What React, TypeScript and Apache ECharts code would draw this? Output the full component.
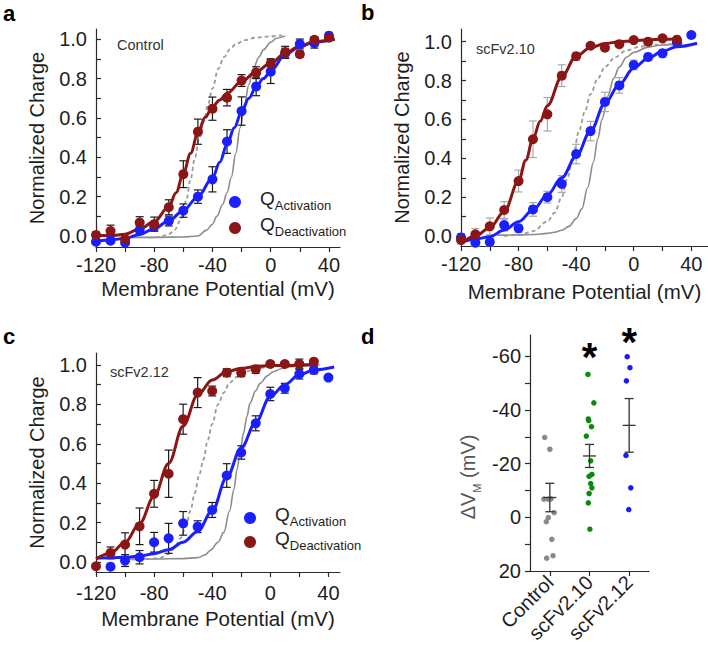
import React, { useEffect, useRef } from 'react';
import * as echarts from 'echarts';

const FONT = '"Liberation Sans", Arial, Helvetica, sans-serif';

// Membrane potentials (mV)
const VOLT = [-120, -110, -100, -90, -80, -70, -60, -50, -40, -30, -20, -10, 0, 10, 20, 30, 40];

// Panel a (Control)
const aActQ = [-0.029, -0.024, -0.034, 0.03, 0.05, 0.076, 0.129, 0.2, 0.288, 0.48, 0.635, 0.76, 0.835, 0.929, 0.976, 0.98, 1.018];
const aActErr = [0.01, 0.01, 0.01, 0.02, 0.02, 0.025, 0.034, 0.034, 0.064, 0.06, 0.072, 0.047, 0.06, 0.025, 0.025, 0.025, 0.01];
const aDeaQ = [0.005, 0.025, -0.017, 0.068, 0.06, 0.146, 0.314, 0.53, 0.647, 0.703, 0.79, 0.83, 0.876, 0.934, 0.924, 0.997, 1.008];
const aDeaErr = [0.015, 0.03, 0.015, 0.03, 0.036, 0.038, 0.068, 0.064, 0.059, 0.042, 0.03, 0.03, 0.025, 0.03, 0.015, 0.015, 0.01];
const aActFit = [[-120, -0.026], [-110, -0.02], [-100, -0.012], [-90, 0.008], [-80, 0.037], [-70, 0.077], [-60, 0.13], [-50, 0.2], [-40, 0.295], [-35, 0.375], [-30, 0.465], [-25, 0.55], [-20, 0.632], [-15, 0.7], [-10, 0.759], [-5, 0.8], [0, 0.838], [10, 0.922], [20, 0.962], [30, 0.986], [44, 1.0]];
const aDeaFit = [[-120, 0.002], [-110, 0.002], [-100, 0.009], [-90, 0.036], [-80, 0.073], [-70, 0.149], [-65, 0.22], [-60, 0.319], [-55, 0.42], [-50, 0.525], [-45, 0.603], [-40, 0.657], [-35, 0.691], [-30, 0.725], [-20, 0.785], [-10, 0.835], [0, 0.878], [10, 0.929], [20, 0.966], [30, 0.988], [44, 1.0]];
const aRefSolid = [[-100, -0.007], [-80, -0.007], [-60, -0.005], [-50, 0.0], [-44, 0.03], [-40, 0.06], [-37, 0.1], [-33, 0.16], [-30, 0.22], [-27, 0.3], [-24, 0.42], [-21, 0.55], [-18, 0.67], [-15, 0.77], [-12, 0.85], [-8, 0.91], [-5, 0.946], [0, 0.985], [4, 1.005], [10, 1.017]];
const aRefDash = [[-84, -0.008], [-76, -0.005], [-70, 0.01], [-66, 0.03], [-62, 0.08], [-58, 0.18], [-55, 0.29], [-52, 0.4], [-49, 0.5], [-46, 0.58], [-43, 0.67], [-40, 0.75], [-36, 0.85], [-32, 0.91], [-28, 0.95], [-24, 0.975], [-18, 0.995], [-10, 1.008], [0, 1.015], [8, 1.02]];

// Panel b (scFv2.10)
const bActQ = [-0.007, -0.034, -0.03, 0.057, 0.04, 0.137, 0.2, 0.268, 0.422, 0.54, 0.69, 0.775, 0.88, 0.921, 0.94, 0.997, 1.034];
const bActErr = [0.02, 0.02, 0.02, 0.03, 0.02, 0.035, 0.03, 0.043, 0.05, 0.05, 0.05, 0.04, 0.025, 0.02, 0.02, 0.01, 0.01];
const bDeaQ = [-0.02, 0.009, 0.05, 0.134, 0.283, 0.498, 0.626, 0.825, 0.925, 0.979, 0.969, 0.987, 1.008, 1.0, 1.017, 1.01];
const bDeaErr = [0.02, 0.03, 0.043, 0.043, 0.056, 0.094, 0.086, 0.056, 0.02, 0.015, 0.015, 0.01, 0.01, 0.01, 0.01, 0.01];
const bActFit = [[-120, -0.035], [-110, -0.015], [-100, -0.003], [-90, 0.031], [-80, 0.074], [-70, 0.134], [-60, 0.211], [-50, 0.3], [-40, 0.41], [-30, 0.54], [-20, 0.683], [-10, 0.78], [0, 0.865], [10, 0.915], [20, 0.95], [30, 0.974], [44, 0.992]];
const bDeaFit = [[-120, -0.04], [-110, 0.0], [-100, 0.043], [-90, 0.125], [-80, 0.283], [-75, 0.39], [-70, 0.5], [-65, 0.59], [-60, 0.67], [-50, 0.82], [-40, 0.925], [-30, 0.97], [-20, 0.99], [-10, 1.0], [0, 1.005], [10, 1.01], [20, 1.012], [30, 1.013]];
const bRefSolid = [[-95, 0.005], [-80, 0.006], [-70, 0.008], [-60, 0.014], [-55, 0.02], [-50, 0.03], [-45, 0.05], [-40, 0.09], [-36, 0.14], [-32, 0.25], [-28, 0.38], [-25, 0.5], [-22, 0.6], [-18, 0.72], [-14, 0.81], [-10, 0.87], [-5, 0.92], [0, 0.945], [10, 0.972], [20, 0.983], [34, 0.99]];
const bRefDash = [[-90, 0.0], [-80, 0.005], [-70, 0.025], [-60, 0.075], [-55, 0.12], [-50, 0.2], [-46, 0.3], [-42, 0.42], [-38, 0.54], [-34, 0.64], [-30, 0.73], [-25, 0.81], [-20, 0.87], [-13, 0.92], [-5, 0.955], [5, 0.975], [15, 0.985], [34, 0.99]];

// Panel c (scFv2.12)
const cActQ = [-0.024, 0.007, 0.024, 0.1, 0.12, 0.196, 0.179, 0.264, 0.439, 0.556, 0.704, 0.853, 0.882, 0.954, 0.975, 0.936];
const cActErr = [0.01, 0.03, 0.034, 0.05, 0.076, 0.06, 0.03, 0.038, 0.06, 0.034, 0.038, 0.034, 0.025, 0.025, 0.02, 0.01];
const cDeaQ = [-0.022, 0.046, 0.088, 0.181, 0.346, 0.448, 0.725, 0.86, 0.868, 0.961, 0.961, 0.978, 1.005, 1.005, 1.005, 1.017];
const cDeaErr = [0.01, 0.03, 0.06, 0.093, 0.068, 0.12, 0.076, 0.076, 0.025, 0.02, 0.02, 0.02, 0.012, 0.012, 0.025, 0.012];
const cActFit = [[-120, 0.019], [-110, 0.021], [-100, 0.024], [-90, 0.03], [-80, 0.042], [-70, 0.062], [-60, 0.1], [-50, 0.155], [-40, 0.26], [-30, 0.43], [-20, 0.58], [-10, 0.71], [0, 0.84], [10, 0.9], [20, 0.95], [30, 0.975], [44, 0.99]];
const cDeaFit = [[-120, 0.015], [-110, 0.044], [-100, 0.1], [-90, 0.194], [-80, 0.333], [-70, 0.5], [-60, 0.69], [-50, 0.848], [-40, 0.924], [-30, 0.966], [-20, 0.983], [-10, 0.992], [0, 0.997], [30, 1.003]];
const cRefSolid = [[-97, 0.015], [-80, 0.015], [-60, 0.017], [-50, 0.022], [-45, 0.035], [-41, 0.06], [-36, 0.1], [-32, 0.15], [-28, 0.26], [-25, 0.37], [-23, 0.467], [-20.5, 0.57], [-18.5, 0.653], [-16, 0.74], [-14, 0.806], [-10, 0.87], [-7, 0.907], [-2, 0.945], [2, 0.966], [8, 0.982], [14, 0.992], [34, 1.0]];
const cRefDash = [[-95, 0.012], [-85, 0.015], [-76, 0.02], [-70, 0.04], [-66, 0.07], [-62, 0.12], [-58, 0.18], [-55, 0.26], [-52, 0.35], [-49, 0.44], [-46, 0.52], [-43, 0.62], [-40, 0.7], [-36, 0.8], [-32, 0.86], [-28, 0.91], [-23, 0.94], [-18, 0.965], [-11, 0.978], [-2, 0.99], [9, 1.0]];

// Panel d (ΔV_M)
const GROUPS = ['Control', 'scFv2.10', 'scFv2.12'];
const dCtrlJitter = [-0.13, 0, -0.15, -0.04, 0.03, 0.11, -0.04, -0.09, 0.05, 0.08, -0.08];
const dCtrlVal = [-29.8, -25.4, -6.8, -6.8, -6.9, -1.8, 0.1, 1.6, 8.2, 14.3, 15.2];
const d210Jitter = [-0.04, 0.11, -0.03, -0.02, 0.05, -0.08, 0.03, 0.06, -0.01, 0.03, 0.06, -0.01, -0.03, 0.01];
const d210Val = [-53.3, -42.7, -36.7, -36.1, -33.8, -30.3, -21.1, -16.0, -15.3, -12.6, -11.0, -8.9, -5.4, 4.4];
const d212Jitter = [-0.05, 0.02, -0.07, -0.08, 0.04, -0.01];
const d212Val = [-59.9, -55.8, -50.9, -23.1, -11.0, -2.9];
const dMean = [-7.4, -22.9, -34.3];
const dSem = [5.3, 4.3, 10.0];
const dStarGroup = [2, 3];
const dStarY = [-59.8, -65.3];

const X_TICKS = [-120, -100, -80, -60, -40, -20, 0, 20, 40];
const X_LABELS = [-120, -80, -40, 0, 40];
const Y_TICKS = [0, 0.1, 0.2, 0.3, 0.4, 0.5, 0.6, 0.7, 0.8, 0.9, 1.0];
const Y_LABELS = [0, 0.2, 0.4, 0.6, 0.8, 1.0];
const D_TICKS = [-60, -50, -40, -30, -20, -10, 0, 10, 20];
const D_LABELS = [-60, -40, -20, 0, 20];

const BLUE = '#1a1fff';
const RED = '#8b1616';
const GREY = '#8c8c8c';
const AXIS = '#2a2a2a';
const TXT = '#1e1e1e';

const zip3 = (xs: number[], ys: number[], es: number[]) => ys.map((y, i) => [xs[i], y, es[i]]);

function errRender(color: string, hw: number) {
  return (params: any, api: any) => {
    const x = api.value(0), y = api.value(1), e = api.value(2);
    const t = api.coord([x, y + e]);
    const b = api.coord([x, y - e]);
    const st = { stroke: color, lineWidth: 1.2 };
    return {
      type: 'group',
      children: [
        { type: 'line', shape: { x1: t[0], y1: t[1], x2: b[0], y2: b[1] }, style: st },
        { type: 'line', shape: { x1: t[0] - hw, y1: t[1], x2: t[0] + hw, y2: t[1] }, style: st },
        { type: 'line', shape: { x1: b[0] - hw, y1: b[1], x2: b[0] + hw, y2: b[1] }, style: st },
      ],
    };
  };
}

function meanRender(params: any, api: any) {
  const x = api.value(0), m = api.value(1), s = api.value(2);
  const c = api.coord([x, m]);
  const t = api.coord([x, m - s]);
  const b = api.coord([x, m + s]);
  const st = { stroke: '#333', lineWidth: 1.3 };
  return {
    type: 'group',
    children: [
      { type: 'line', shape: { x1: t[0], y1: t[1], x2: b[0], y2: b[1] }, style: st },
      { type: 'line', shape: { x1: t[0] - 4.5, y1: t[1], x2: t[0] + 4.5, y2: t[1] }, style: st },
      { type: 'line', shape: { x1: b[0] - 4.5, y1: b[1], x2: b[0] + 4.5, y2: b[1] }, style: st },
      { type: 'line', shape: { x1: c[0] - 6.5, y1: c[1], x2: c[0] + 6.5, y2: c[1] }, style: st },
    ],
  };
}

function xAxisQ(gridIndex: number, max: number, margin: number, nameGap: number) {
  return {
    type: 'value', gridIndex, min: -120, max,
    name: 'Membrane Potential (mV)', nameLocation: 'middle', nameGap,
    nameTextStyle: { fontFamily: FONT, fontSize: 20.5, color: TXT },
    axisLine: { show: true, onZero: false, lineStyle: { color: AXIS, width: 1.2 } },
    axisTick: { show: true, inside: false, length: 5, customValues: X_TICKS, lineStyle: { color: AXIS, width: 1.2 } },
    axisLabel: { customValues: X_LABELS, margin, fontFamily: FONT, fontSize: 20, color: TXT, formatter: (v: number) => String(v) },
    splitLine: { show: false },
  };
}

function yAxisQ(gridIndex: number, min: number, max: number) {
  return {
    type: 'value', gridIndex, min, max,
    name: 'Normalized Charge', nameLocation: 'middle', nameGap: 49,
    nameTextStyle: { fontFamily: FONT, fontSize: 20, color: TXT },
    axisLine: { show: true, onZero: false, lineStyle: { color: AXIS, width: 1.2 } },
    axisTick: { show: true, inside: true, length: 5, customValues: Y_TICKS, lineStyle: { color: AXIS, width: 1.2 } },
    axisLabel: { customValues: Y_LABELS, margin: 9, fontFamily: FONT, fontSize: 20, color: TXT, formatter: (v: number) => v.toFixed(1) },
    splitLine: { show: false },
  };
}

function panelSeries(idx: number, act: number[][], dea: number[][], actFit: number[][], deaFit: number[][], refS: number[][], refD: number[][], errColor: string) {
  const base = { xAxisIndex: idx, yAxisIndex: idx };
  return [
    { ...base, type: 'line', name: 'ref-solid-' + idx, data: refS, showSymbol: false, smooth: 0.35, smoothMonotone: 'x', lineStyle: { color: GREY, width: 1.6 }, z: 1 },
    { ...base, type: 'line', name: 'ref-dash-' + idx, data: refD, showSymbol: false, smooth: 0.35, smoothMonotone: 'x', lineStyle: { color: '#9a9a9a', width: 1.8, type: [4, 3] }, z: 1 },
    { ...base, type: 'custom', name: 'err-a-' + idx, data: act, renderItem: errRender(errColor, 4), encode: { x: 0, y: 1 }, z: 2 },
    { ...base, type: 'custom', name: 'err-d-' + idx, data: dea, renderItem: errRender(errColor, 4), encode: { x: 0, y: 1 }, z: 2 },
    { ...base, type: 'line', name: 'fit-a-' + idx, data: actFit, showSymbol: false, smooth: 0.35, smoothMonotone: 'x', lineStyle: { color: BLUE, width: 3 }, z: 3 },
    { ...base, type: 'line', name: 'fit-d-' + idx, data: deaFit, showSymbol: false, smooth: 0.35, smoothMonotone: 'x', lineStyle: { color: RED, width: 3 }, z: 3 },
    { ...base, type: 'scatter', name: 'Activation', data: act.map((p) => [p[0], p[1]]), symbol: 'circle', symbolSize: 10, itemStyle: { color: BLUE, opacity: 1 }, z: 4 },
    { ...base, type: 'scatter', name: 'Deactivation', data: dea.map((p) => [p[0], p[1]]), symbol: 'circle', symbolSize: 10, itemStyle: { color: RED, opacity: 1 }, z: 4 },
  ];
}

function legendQ(left: number, top: number, gap: number) {
  return {
    show: true, orient: 'vertical', left, top, padding: 0, selectedMode: false,
    data: ['Activation', 'Deactivation'], icon: 'circle', itemWidth: 12, itemHeight: 12, itemGap: gap,
    formatter: (name: string) => '{q|Q}{s|' + name + '}',
    textStyle: {
      fontFamily: FONT, color: TXT,
      rich: {
        q: { fontFamily: FONT, fontSize: 19, color: TXT, padding: [0, 0, 4, 14], verticalAlign: 'bottom', lineHeight: 20 },
        s: { fontFamily: FONT, fontSize: 13, color: TXT, verticalAlign: 'bottom', lineHeight: 14 },
      },
    },
  };
}

export default function App() {
  const ref = useRef<HTMLDivElement>(null);
  useEffect(() => {
    document.body.style.margin = '0';
    if (!ref.current) return;
    const chart = echarts.init(ref.current, null, { renderer: 'svg' });

    const dScatter = (j: number[], v: number[], g: number, color: string) => ({
      type: 'scatter', xAxisIndex: 4, yAxisIndex: 3, name: 'd-' + GROUPS[g],
      data: v.map((val, i) => [g + 1 + j[i], val]), symbolSize: 5.5, itemStyle: { color, opacity: 1 }, z: 3,
    });

    const option: any = {
      animation: false,
      backgroundColor: '#ffffff',
      textStyle: { fontFamily: FONT },
      grid: [
        { left: 96, top: 29, width: 244, height: 218 },
        { left: 461, top: 29, width: 247, height: 217 },
        { left: 96, top: 353, width: 244, height: 219 },
        { left: 530, top: 335, width: 119, height: 236 },
      ],
      legend: [legendQ(229, 189, 3), legendQ(244, 505, 1)],
      xAxis: [
        xAxisQ(0, 47.6, 8, 31),
        xAxisQ(1, 51.6, 8, 35),
        xAxisQ(2, 48, 11, 36),
        {
          type: 'category', gridIndex: 3, data: GROUPS, boundaryGap: true,
          axisLine: { show: true, onZero: false, lineStyle: { color: AXIS, width: 1.2 } },
          axisTick: { show: true, alignWithLabel: true, length: 5, lineStyle: { color: AXIS, width: 1.2 } },
          axisLabel: { rotate: 45, margin: 8, fontFamily: FONT, fontSize: 20, color: TXT, interval: 0 },
        },
        { type: 'value', gridIndex: 3, min: 0.5, max: 3.5, show: false },
      ],
      yAxis: [
        yAxisQ(0, -0.056, 1.052),
        yAxisQ(1, -0.051, 1.065),
        yAxisQ(2, -0.051, 1.061),
        {
          type: 'value', gridIndex: 3, inverse: true, min: -68, max: 20,
          axisLine: { show: true, onZero: false, lineStyle: { color: AXIS, width: 1.2 } },
          axisTick: { show: true, inside: false, length: 5, customValues: D_TICKS, lineStyle: { color: AXIS, width: 1.2 } },
          axisLabel: { customValues: D_LABELS, margin: 9, fontFamily: FONT, fontSize: 20, color: TXT, formatter: (v: number) => String(v) },
          splitLine: { show: false },
        },
      ],
      series: [
        ...panelSeries(0, zip3(VOLT, aActQ, aActErr), zip3(VOLT, aDeaQ, aDeaErr), aActFit, aDeaFit, aRefSolid, aRefDash, '#1a1a1a'),
        ...panelSeries(1, zip3(VOLT, bActQ, bActErr), zip3(VOLT.slice(0, 16), bDeaQ, bDeaErr), bActFit, bDeaFit, bRefSolid, bRefDash, '#a8a8a8'),
        ...panelSeries(2, zip3(VOLT.slice(1), cActQ, cActErr), zip3(VOLT.slice(0, 16), cDeaQ, cDeaErr), cActFit, cDeaFit, cRefSolid, cRefDash, '#1a1a1a'),
        dScatter(dCtrlJitter, dCtrlVal, 0, '#8a8a8a'),
        dScatter(d210Jitter, d210Val, 1, '#0b8a0b'),
        dScatter(d212Jitter, d212Val, 2, '#1a1aff'),
        {
          type: 'custom', xAxisIndex: 4, yAxisIndex: 3, name: 'd-mean',
          data: dMean.map((m, i) => [i + 1, m, dSem[i]]), renderItem: meanRender, encode: { x: 0, y: 1 }, z: 4,
        },
        {
          type: 'scatter', xAxisIndex: 4, yAxisIndex: 3, name: 'd-star',
          data: dStarY.map((y, i) => [dStarGroup[i], y]),
          symbolSize: 0.5, itemStyle: { color: '#000', opacity: 1 },
          label: { show: true, position: 'inside', formatter: '*', fontFamily: FONT, fontSize: 40, fontWeight: 'bold', color: '#000', opacity: 1 },
          z: 5,
        },
      ],
      graphic: [
        { type: 'text', x: 3, y: 13, style: { text: 'a', font: 'bold 22px ' + FONT, fill: '#000', verticalAlign: 'middle' } },
        { type: 'text', x: 361, y: 12, style: { text: 'b', font: 'bold 22px ' + FONT, fill: '#000', verticalAlign: 'middle' } },
        { type: 'text', x: 3, y: 336, style: { text: 'c', font: 'bold 22px ' + FONT, fill: '#000', verticalAlign: 'middle' } },
        { type: 'text', x: 361, y: 336, style: { text: 'd', font: 'bold 22px ' + FONT, fill: '#000', verticalAlign: 'middle' } },
        { type: 'text', x: 117, y: 45, style: { text: 'Control', font: '14.5px ' + FONT, fill: '#333', verticalAlign: 'middle' } },
        { type: 'text', x: 476, y: 49, style: { text: 'scFv2.10', font: '14.5px ' + FONT, fill: '#333', verticalAlign: 'middle' } },
        { type: 'text', x: 110, y: 372, style: { text: 'scFv2.12', font: '14.5px ' + FONT, fill: '#333', verticalAlign: 'middle' } },
        {
          type: 'text', x: 472, y: 477, rotation: Math.PI / 2,
          style: {
            text: '{a|ΔV}{m|M}{a| (mV)}', align: 'center', verticalAlign: 'middle',
            rich: {
              a: { fontFamily: FONT, fontSize: 20, fill: '#555', color: '#555', verticalAlign: 'bottom', lineHeight: 20, padding: [0, 0, 4, 0] },
              m: { fontFamily: FONT, fontSize: 11, fill: '#555', color: '#555', verticalAlign: 'bottom', lineHeight: 12 },
            },
          },
        },
      ],
    };
    chart.setOption(option);
    return () => chart.dispose();
  }, []);
  return <div ref={ref} style={{ width: 708, height: 651 }} />;
}
